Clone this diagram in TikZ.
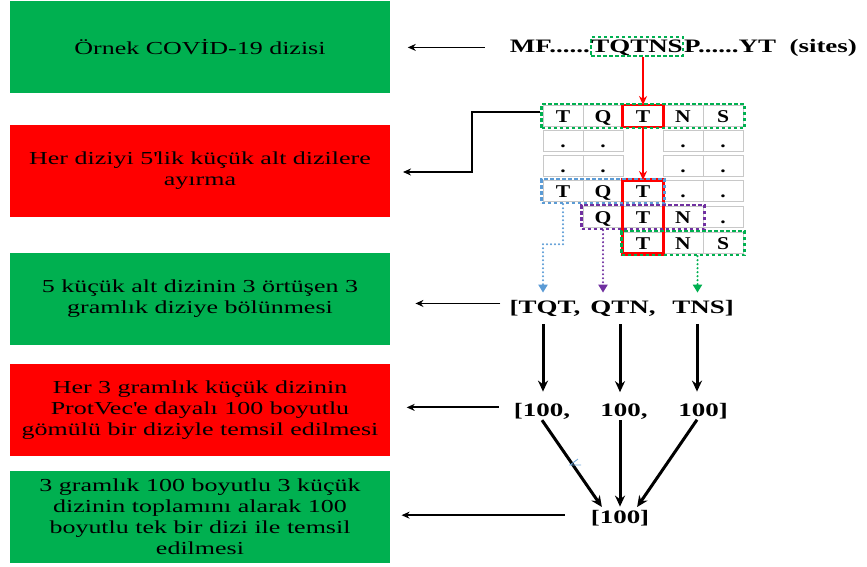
\documentclass[tikz,border=0pt]{standalone}
\usepackage{fontspec}
\setmainfont{Liberation Serif}[FakeStretch=1.42]
\newfontfamily\gridfamily{Liberation Serif}[FakeStretch=1.2]
\usetikzlibrary{arrows.meta,fit,calc}
\definecolor{mygreen}{HTML}{00B050}
\definecolor{myred}{HTML}{FF0000}
\definecolor{myblue}{HTML}{5B9BD5}
\definecolor{mypurple}{HTML}{7030A0}
\definecolor{cellgray}{HTML}{C8C8C8}
\definecolor{artblue}{HTML}{6FA8DC}
\begin{document}
\begin{tikzpicture}[x=1pt,y=-1pt,
 box/.style={minimum width=380pt,minimum height=92pt,inner sep=0pt,align=center,font=\fontsize{18.3}{21}\selectfont},
 gbox/.style={box,fill=mygreen},
 rbox/.style={box,fill=myred},
 btxt/.style={font=\fontsize{19}{22}\selectfont\bfseries,inner sep=1pt},
 cell/.style={draw=cellgray,line width=1pt,minimum width=40pt,minimum height=21pt,inner sep=0pt,text height=12.5pt,text depth=0pt,font=\gridfamily\fontsize{18}{20}\selectfont\bfseries},
 larrow/.style={line width=1.8pt,-{Stealth[length=8pt,width=7pt]}},
 darrow/.style={line width=3pt,-{Stealth[length=11pt,width=10pt]}},
 rarrow/.style={line width=2.5pt,myred,-{Stealth[length=9pt,width=8pt]}},
 dashbox/.style={draw,dash pattern=on 3.5pt off 2.5pt,line width=2.3pt,inner sep=1pt},
 dotarrow/.style={line width=2.3pt,dash pattern=on 0pt off 4pt,line cap=round,-{Triangle[length=8pt,width=9pt]}},
]
\useasboundingbox (0,0) rectangle (867,566);

% left boxes
\node[gbox] (b1) at (200,47) {Örnek COVİD-19 dizisi};
\node[rbox] (b2) at (200,171) {Her diziyi 5\textquotesingle lik küçük alt dizilere\\ayırma};
\node[gbox] (b3) at (200,299) {5 küçük alt dizinin 3 örtüşen 3\\gramlık diziye bölünmesi};
\node[rbox] (b4) at (200,410) {Her 3 gramlık küçük dizinin\\ProtVec\textquotesingle e dayalı 100 boyutlu\\gömülü bir diziyle temsil edilmesi};
\node[gbox] (b5) at (200,517) {3 gramlık 100 boyutlu 3 küçük\\dizinin toplamını alarak 100\\boyutlu tek bir dizi ile temsil\\edilmesi};

% top sequence
\node[btxt,anchor=base,dashbox,draw=mygreen,text height=13pt,text depth=2pt,inner xsep=0pt,inner ysep=2pt] (tq) at (637,52) {TQTNS};
\node[btxt,anchor=base east,inner sep=0pt] (mf) at (tq.base west) {MF......};
\node[btxt,anchor=base west,inner sep=0pt] (ps) at (tq.base east) {P......YT\ \ (sites)};
\draw[larrow] ($(mf.west)+(-25,1.5)$) -- ++(-77,0);

% grid
\foreach \r/\y in {1/116,2/141,3/166,4/191,5/217,6/243}{
  \foreach \c/\x in {1/563,2/603,3/643,4/683,5/723}{
    \coordinate (p\r\c) at (\x,\y);
  }
}
\node[cell] (c11) at (p11) {T};
\node[cell] (c12) at (p12) {Q};
\node[cell] (c13) at (p13) {T};
\node[cell] (c14) at (p14) {N};
\node[cell] (c15) at (p15) {S};
\node[cell] (c21) at (p21) {.};
\node[cell] (c22) at (p22) {.};
\node[cell] (c24) at (p24) {.};
\node[cell] (c25) at (p25) {.};
\node[cell] (c31) at (p31) {.};
\node[cell] (c32) at (p32) {.};
\node[cell] (c34) at (p34) {.};
\node[cell] (c35) at (p35) {.};
\node[cell] (c41) at (p41) {T};
\node[cell] (c42) at (p42) {Q};
\node[cell] (c43) at (p43) {T};
\node[cell] (c44) at (p44) {.};
\node[cell] (c45) at (p45) {.};
\node[cell] (c52) at (p52) {Q};
\node[cell] (c53) at (p53) {T};
\node[cell] (c54) at (p54) {N};
\node[cell] (c55) at (p55) {.};
\node[cell] (c63) at (p63) {T};
\node[cell] (c64) at (p64) {N};
\node[cell] (c65) at (p65) {S};

\node[draw=myred,line width=2.5pt,inner sep=0pt,fit=(c13)] (rb1) {};
\node[draw=myred,line width=3.5pt,inner sep=0pt,fit=(c43)(c63)] (rb2) {};
\node[dashbox,draw=mygreen,fit=(c11)(c15)] (g1) {};
\node[dashbox,draw=myblue,fit=(c41)(c43)] (bb) {};
\node[dashbox,draw=mypurple,fit=(c52)(c54)] (pb) {};
\node[dashbox,draw=mygreen,fit=(c63)(c65)] (g2) {};

\draw[rarrow] (c13.north |- tq.south) -- (c13.north);
\draw[rarrow] (c13.south) -- (c43.north);

\coordinate (k2) at (472,172);
\coordinate (a2) at (403,172);
\draw[line width=2.2pt,-{Stealth[length=8pt,width=7pt]}] ($(g1.west)+(0,-4)$) -| (k2) -- (a2);

% trigram labels
\node[btxt,anchor=base] (tqt) at (545,313) {[TQT,};
\node[btxt,anchor=base] (qtn) at (623,313) {QTN,};
\node[btxt,anchor=base] (tns) at (703,313) {TNS]};
\node[btxt,anchor=base] (h1) at (542,416) {[100,};
\node[btxt,anchor=base] (h2) at (624,416) {100,};
\node[btxt,anchor=base] (h3) at (703,416) {100]};
\node[btxt,anchor=base] (sum) at (620,523) {[100]};

\draw[dotarrow,myblue,shorten >=6pt] (c41.south |- bb.south) -- ++(0,40) -| ($(tqt.north)+(-2,0)$);
\draw[dotarrow,mypurple,shorten >=6pt] (c52.south |- pb.south) -- (c52.south |- tqt.north);
\coordinate (gd) at ($(c64.east |- g2.south)+(-6,0)$);
\draw[dotarrow,mygreen,shorten >=6pt] (gd) -- (gd |- tqt.north);

\draw[larrow] ($(tqt.west)+(-8,-4.5)$) -- ++(-85,0);
\draw[larrow] ($(h1.west)+(-14,-3.5)$) -- ++(-92,0);
\draw[larrow] ($(sum.west)+(-25,-2.5)$) -- ++(-163,0);

\coordinate (v1) at ($(tqt.south)+(-2,0)$);
\coordinate (v2) at ($(qtn.south)+(-3,0)$);
\coordinate (v3) at ($(tns.south)+(-6,0)$);
\draw[darrow,shorten <=7pt,shorten >=10pt] (v1) -- (v1 |- h1.north);
\draw[darrow,shorten <=7pt,shorten >=10pt] (v2) -- (v2 |- h2.north);
\draw[darrow,shorten <=7pt,shorten >=10pt] (v3) -- (v3 |- h3.north);

\draw[darrow,shorten >=2pt] (h1.south) -- ($(sum.north)+(-17,0)$);
\draw[darrow,shorten >=2pt] (sum.north |- h2.south) -- (sum.north);
\draw[darrow,shorten >=2pt] ($(h3.south)+(-6,0)$) -- ($(sum.north)+(16,0)$);

% small stray mark
\draw[artblue,line width=0.8pt] (570,465) -- (578,459) (569,465) -- (581,465);
\end{tikzpicture}
\end{document}
